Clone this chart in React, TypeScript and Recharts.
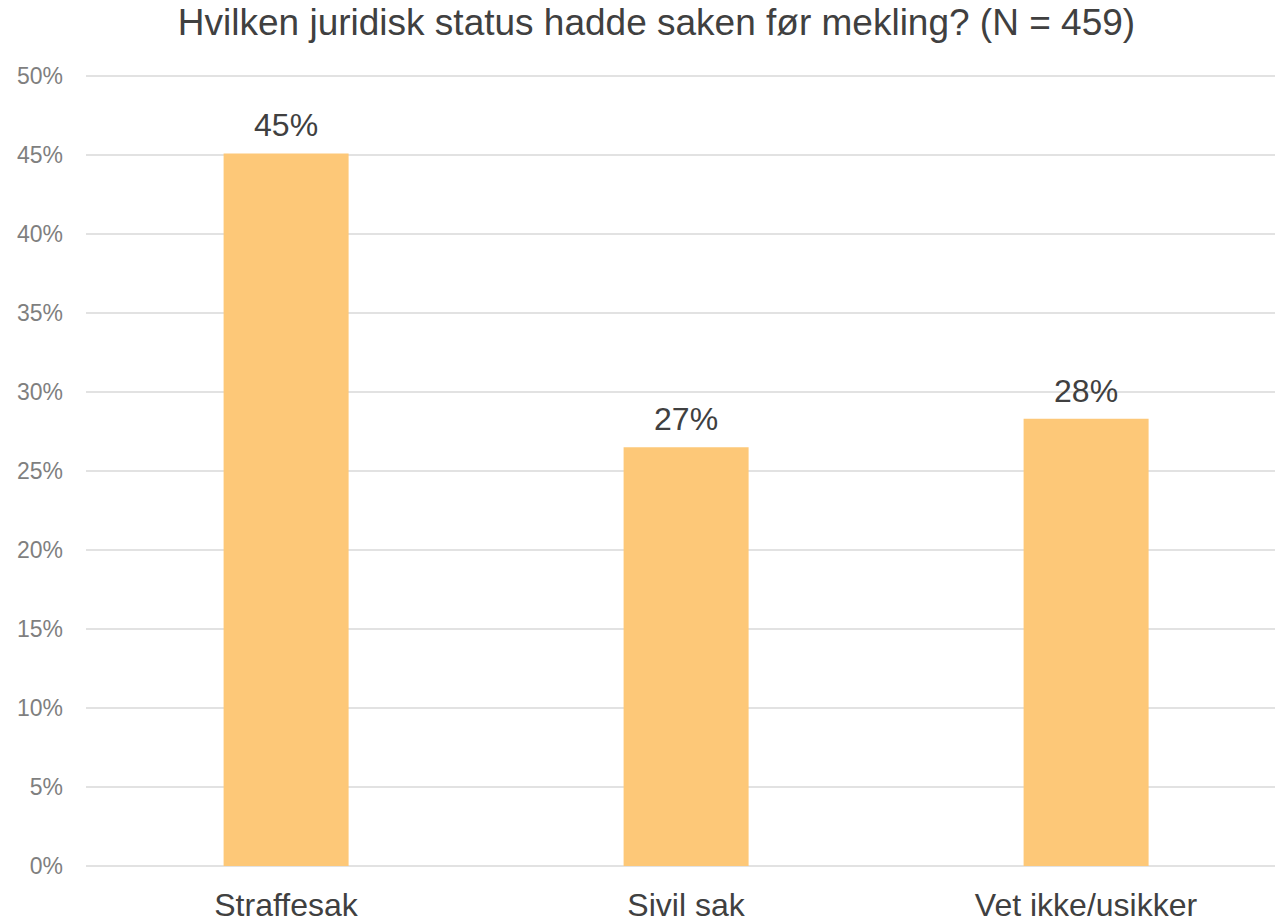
import React from "react";
import { BarChart, Bar, XAxis, YAxis, CartesianGrid, LabelList } from "recharts";

const categories = ["Straffesak", "Sivil sak", "Vet ikke/usikker"];
const values = [45.1, 26.5, 28.3];
const yTicks = [0, 5, 10, 15, 20, 25, 30, 35, 40, 45, 50];
const title = "Hvilken juridisk status hadde saken før mekling? (N = 459)";

const data = categories.map((name, i) => ({ name, value: values[i] }));

const FONT = "'Liberation Sans', Arial, sans-serif";

export default function App() {
  return (
    <div
      style={{
        position: "absolute",
        left: 0,
        top: 0,
        width: 1275,
        height: 923,
        overflow: "hidden",
        background: "#fff",
        fontFamily: FONT,
      }}
    >
      <div style={{ position: "absolute", left: 0, top: 0 }}>
        <BarChart
          width={1300}
          height={923}
          data={data}
          margin={{ top: 76, right: 14, bottom: 0, left: 0 }}
          barCategoryGap="34.4%"
        >
          <text
            x={656.5}
            y={35}
            textAnchor="middle"
            fill="#404040"
            fontSize={37}
            fontFamily={FONT}
          >
            {title}
          </text>
          <CartesianGrid vertical={false} stroke="#d9d9d9" strokeWidth={1.5} />
          <XAxis
            dataKey="name"
            axisLine={false}
            tickLine={false}
            tickSize={0}
            tickMargin={27}
            height={57}
            interval={0}
            tick={{ fill: "#404040", fontSize: 32, fontFamily: FONT }}
          />
          <YAxis
            domain={[0, 50]}
            ticks={yTicks}
            interval={0}
            axisLine={false}
            tickLine={false}
            tickSize={0}
            tickMargin={23}
            width={86}
            tickFormatter={(v: number) => `${v}%`}
            tick={{ fill: "#7f7f7f", fontSize: 23, fontFamily: FONT }}
          />
          <Bar dataKey="value" fill="#fdc878" isAnimationActive={false}>
            <LabelList
              dataKey="value"
              position="top"
              offset={17}
              formatter={(v: number) => `${Math.round(v)}%`}
              style={{ fill: "#404040", fontSize: 32, fontFamily: FONT }}
            />
          </Bar>
        </BarChart>
      </div>
    </div>
  );
}
